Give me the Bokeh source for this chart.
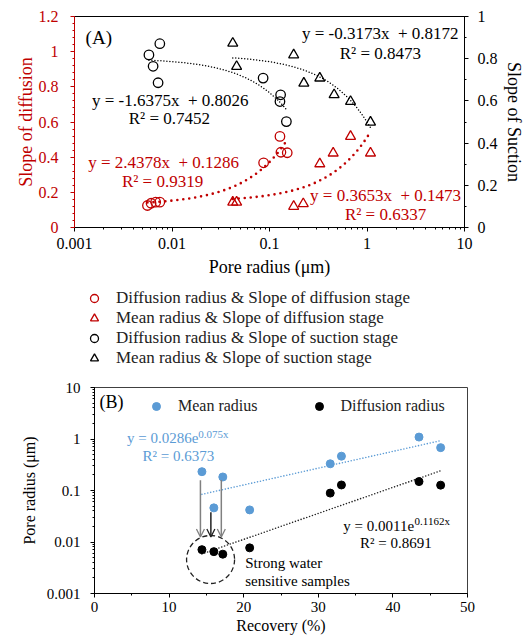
import numpy as np
from bokeh.plotting import figure
from bokeh.models import (Range1d, LinearAxis, Legend, LegendItem, Label, Arrow, OpenHead,
                          SingleIntervalTicker, FixedTicker, CustomJSTickFormatter)
from bokeh.layouts import column, row
from bokeh.embed import file_html
from bokeh.resources import INLINE

SERIF = "Liberation Serif"
RED = "#C00000"
BLUE = "#5B9BD5"

# ---------------- Panel A data ----------------
# Diffusion radius (um) vs slope of diffusion stage (left axis)
a_dr_x = [0.0056, 0.0061, 0.0068, 0.0075, 0.087, 0.128, 0.131, 0.152]
a_dr_diff = [0.125, 0.138, 0.144, 0.144, 0.368, 0.518, 0.428, 0.425]
# Mean radius (um) vs slope of diffusion stage (left axis)
a_mr_x = [0.042, 0.046, 0.177, 0.222, 0.328, 0.45, 0.678, 1.086]
a_mr_diff = [0.144, 0.144, 0.12, 0.135, 0.362, 0.423, 0.518, 0.423]
# Diffusion radius (um) vs slope of suction stage (right axis)
a_dr_x2 = [0.0075, 0.0058, 0.0064, 0.0072, 0.086, 0.13, 0.128, 0.149]
a_dr_suc = [0.871, 0.818, 0.764, 0.686, 0.708, 0.629, 0.597, 0.502]
# Mean radius (um) vs slope of suction stage (right axis)
a_mr_x2 = [0.042, 0.046, 0.177, 0.225, 0.328, 0.46, 0.678, 1.086]
a_mr_suc = [0.873, 0.763, 0.818, 0.684, 0.708, 0.629, 0.597, 0.499]
# linear trendline coefficients (slope, intercept)
fit_dr_diff = (2.4378, 0.1286)
fit_mr_diff = (0.3653, 0.1473)
fit_dr_suc = (-1.6375, 0.8026)
fit_mr_suc = (-0.3173, 0.8172)
left_ticks = [0, 0.2, 0.4, 0.6, 0.8, 1.0, 1.2]
right_ticks = [0, 0.2, 0.4, 0.6, 0.8, 1.0]
legend_labels = ["Diffusion radius & Slope of diffusion stage",
                 "Mean radius & Slope of diffusion stage",
                 "Diffusion radius & Slope of suction stage",
                 "Mean radius & Slope of suction stage"]

# ---------------- Panel B data ----------------
recovery = [14.4, 16.0, 17.2, 20.8, 31.6, 33.1, 43.5, 46.4]
mean_radius = [0.232, 0.046, 0.183, 0.042, 0.33, 0.464, 1.09, 0.68]
diff_radius = [0.0071, 0.0065, 0.0058, 0.0077, 0.089, 0.128, 0.149, 0.127]
fit_mean = (0.0286, 0.075)
fit_diff = (0.0011, 0.1162)

fmt = CustomJSTickFormatter(code="return Number(tick.toPrecision(6)).toString();")
NB = "\u00a0"


def style_axis(ax, color="black", size="16px", title_size="18px"):
    ax.axis_line_color = color
    ax.major_tick_line_color = color
    ax.minor_tick_line_color = color
    ax.major_label_text_color = color
    ax.axis_label_text_color = color
    ax.major_label_text_font = SERIF
    ax.axis_label_text_font = SERIF
    ax.major_label_text_font_size = size
    ax.axis_label_text_font_size = title_size
    ax.axis_label_text_font_style = "normal"
    ax.major_tick_in = 0
    ax.major_tick_out = 4
    ax.minor_tick_in = 0
    ax.minor_tick_out = 2
    ax.formatter = fmt


# ================= Figure A =================
p = figure(x_axis_type="log", x_range=Range1d(0.001, 10), y_range=Range1d(0, 1.2),
           width=530, height=284, output_backend="svg", toolbar_location=None,
           min_border_left=74, min_border_top=16, min_border_right=66, min_border_bottom=57)
p.extra_y_ranges = {"suction": Range1d(0, 1)}
p.xgrid.visible = False
p.ygrid.visible = False
p.outline_line_color = "black"
p.outline_line_alpha = 1
p.background_fill_color = "white"
p.border_fill_color = "white"

style_axis(p.xaxis[0])
p.xaxis[0].axis_label = "Pore radius (μm)"
p.xaxis[0].major_label_standoff = 6
p.xaxis[0].axis_label_standoff = 5

style_axis(p.yaxis[0], RED)
p.yaxis[0].ticker = FixedTicker(
    ticks=left_ticks,
    minor_ticks=[round(v, 2) for v in np.arange(0, 1.2001, 0.04)])
p.yaxis[0].axis_label = "Slope of diffusion"
p.yaxis[0].major_label_standoff = 12
p.yaxis[0].axis_label_standoff = 0

yr = LinearAxis(y_range_name="suction",
                ticker=FixedTicker(ticks=right_ticks,
                                   minor_ticks=[round(v, 2) for v in np.arange(0, 1.0001, 0.1)]))
style_axis(yr)
yr.axis_label = "Slope of Suction"
yr.major_label_standoff = 9
yr.axis_label_standoff = 3
p.add_layout(yr, "right")

# trendlines
for xs_src, (m, b), col, rng, dash, w in [
        (a_dr_x, fit_dr_diff, RED, "default", "0 6", 2.6),
        (a_mr_x, fit_mr_diff, RED, "default", "0 6", 2.6),
        (a_dr_x2, fit_dr_suc, "black", "suction", "0 3", 1.5),
        (a_mr_x2, fit_mr_suc, "black", "suction", "0 3", 1.5)]:
    xs = np.geomspace(min(xs_src), max(xs_src), 120)
    ys = m * xs + b
    p.line(xs, ys, line_color=col, line_width=w, line_dash=dash, line_cap="round",
           y_range_name=rng)

p.scatter(a_dr_x, a_dr_diff, marker="circle", size=9.5, fill_color=None,
          line_color=RED, line_width=1.3)
p.scatter(a_mr_x, a_mr_diff, marker="triangle", size=10, fill_color=None,
          line_color=RED, line_width=1.3)
p.scatter(a_dr_x2, a_dr_suc, marker="circle", size=9.5, fill_color=None,
          line_color="black", line_width=1.3, y_range_name="suction")
p.scatter(a_mr_x2, a_mr_suc, marker="triangle", size=10, fill_color=None,
          line_color="black", line_width=1.3, y_range_name="suction")


def labA(x, y, text, color="black", align="center", size="17px"):
    p.add_layout(Label(x=x, y=y, text=text, text_font=SERIF, text_font_size=size,
                       text_color=color, text_align=align, text_baseline="middle"))


labA(0.0013, 1.08, "(A)", align="left", size="19px")
labA(0.0096, 0.722, "y = -1.6375x" + NB + " + 0.8026")
labA(0.0094, 0.62, "R² = 0.7452")
labA(0.0082, 0.370, "y = 2.4378x" + NB + " + 0.1286", RED)
labA(0.0080, 0.262, "R² = 0.9319", RED)
labA(1.37, 1.104, "y = -0.3173x" + NB + " + 0.8172")
labA(1.37, 0.99, "R² = 0.8473")
labA(1.55, 0.182, "y = 0.3653x" + NB + " + 0.1473", RED)
labA(1.55, 0.074, "R² = 0.6337", RED)

# ================= Legend of panel A (own strip) =================
lg = figure(width=530, height=84, x_range=Range1d(0, 1), y_range=Range1d(0, 1),
            output_backend="svg", toolbar_location=None, min_border=0,
            x_axis_location=None, y_axis_location=None)
lg.xgrid.visible = False
lg.ygrid.visible = False
lg.outline_line_color = None
lg.border_fill_color = "white"
keys = []
for mk, col in [("circle", RED), ("triangle", RED), ("circle", "black"), ("triangle", "black")]:
    keys.append(lg.scatter(x=[np.nan], y=[np.nan], marker=mk, fill_color=None,
                           line_color=col, line_width=1.3))
legA = Legend(items=[LegendItem(label=t, renderers=[r]) for t, r in zip(legend_labels, keys)],
              location=(84, 0), orientation="vertical", border_line_color=None,
              background_fill_alpha=0, label_text_font=SERIF, label_text_font_size="17px",
              label_text_color="#222222",
              glyph_width=20, glyph_height=20, label_height=20, label_standoff=12,
              spacing=0, padding=2, margin=0)
lg.add_layout(legA)

# ================= Figure B =================
q = figure(y_axis_type="log", x_range=Range1d(0, 50), y_range=Range1d(0.001, 10),
           width=530, height=272, output_backend="svg", toolbar_location=None,
           min_border_left=94, min_border_top=19, min_border_right=63, min_border_bottom=47)
q.xgrid.visible = False
q.ygrid.visible = False
q.outline_line_color = "#404040"
q.background_fill_color = "white"
q.border_fill_color = "white"

style_axis(q.xaxis[0], size="15px", title_size="16px")
q.xaxis[0].ticker = SingleIntervalTicker(interval=10, num_minor_ticks=2)
q.xaxis[0].axis_label = "Recovery (%)"
q.xaxis[0].major_label_standoff = 4
q.xaxis[0].axis_label_standoff = 2
style_axis(q.yaxis[0], size="15px", title_size="16px")
q.yaxis[0].axis_label = "Pore radius (μm)"
q.yaxis[0].major_label_standoff = 10
q.yaxis[0].axis_label_standoff = 6

xs = np.linspace(min(recovery), max(recovery), 100)
q.line(xs, fit_mean[0] * np.exp(fit_mean[1] * xs), line_color=BLUE, line_width=1.6,
       line_dash="0 3", line_cap="round")
q.line(xs, fit_diff[0] * np.exp(fit_diff[1] * xs), line_color="#222222", line_width=1.6,
       line_dash="0 3", line_cap="round")

# annotation: dashed circle and arrows
q.scatter([15.56], [0.00457], marker="circle", size=48, fill_color=None,
          line_color="#222222", line_width=1.3, line_dash="5 3")
for xa, y0, col in [(14.2, 0.158, "#808080"), (15.6, 0.038, "#222222"), (17.0, 0.16, "#808080")]:
    q.add_layout(Arrow(end=OpenHead(size=8, line_color=col, line_width=1.3),
                       x_start=xa, y_start=y0, x_end=xa, y_end=0.0125,
                       line_color=col, line_width=1.5))

rb = q.scatter(recovery, mean_radius, marker="circle", size=8, fill_color=BLUE,
               line_color=BLUE)
rk = q.scatter(recovery, diff_radius, marker="circle", size=8, fill_color="black",
               line_color="black")

legB = Legend(items=[LegendItem(label="Mean radius", renderers=[rb]),
                     LegendItem(label="Diffusion radius", renderers=[rk])],
              location=(52, 177), orientation="horizontal", border_line_color=None,
              background_fill_alpha=0, label_text_font=SERIF, label_text_font_size="16px",
              label_text_color="#222222",
              glyph_width=20, glyph_height=20, label_height=20, label_standoff=12,
              spacing=51, padding=0, margin=0)
q.add_layout(legB)


def labB(x, y, text, color="black", size="15px", align="left"):
    q.add_layout(Label(x=x, y=y, text=text, text_font=SERIF, text_font_size=size,
                       text_color=color, text_align=align, text_baseline="middle"))


labB(0.67, 5.15, "(B)", size="18px")
labB(4.36, 1.045, "y = 0.0286e", BLUE)
labB(13.9, 1.27, "0.075x", BLUE, size="11px")
labB(6.44, 0.464, "R² = 0.6373", BLUE)
labB(33.36, 0.0209, "y = 0.0011e")
labB(42.9, 0.0253, "0.1162x", size="11px")
labB(35.6, 0.0097, "R² = 0.8691")
labB(20.2, 0.00394, "Strong water")
labB(20.2, 0.00175, "sensitive samples")

# each plot in its own row so that the frames are not aligned to each other
layout = column(row(p), row(lg), row(q), spacing=0)
open("out.html", "w").write(file_html(layout, INLINE))
